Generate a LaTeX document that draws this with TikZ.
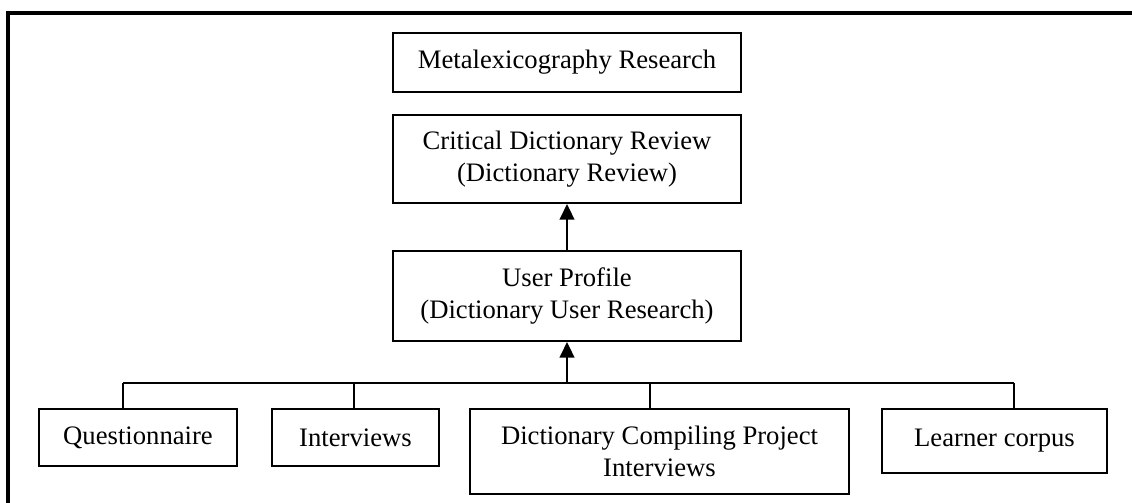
\documentclass[tikz,border=0pt]{standalone}
\usepackage{fontspec}
\setmainfont{Liberation Serif}
\usepackage{tikz}
\usetikzlibrary{arrows.meta}
\usetikzlibrary{positioning}
\tikzset{>={Triangle[length=7pt,width=6.5pt]}}
\def\px{0.45pt}

\begin{document}
\begin{tikzpicture}[
	x=\px, y=-\px,
	box/.style={draw, line width=0.9pt, rectangle, align=center, inner sep=0pt,
		font=\fontsize{12}{14.5}\selectfont},
	link/.style={line width=0.9pt},
	]
	
	\useasboundingbox (0,0) rectangle (1132,503);
	
	% outer frame
	\draw[line width=1.4pt] (8,503) -- (8,13) -- (1132,13);
	
	\node[box, minimum width=348*\px, minimum height=59*\px] (meta) at (567,62.5) {Metalexicography Research};
	\node[box, minimum width=348*\px, minimum height=88*\px, below=21*\px of meta] (crit) {Critical Dictionary Review\\(Dictionary Review)};
	\node[box, minimum width=348*\px, minimum height=90*\px, below=46*\px of crit] (user) {User Profile\\(Dictionary User Research)};
	
	\node[box, minimum width=198*\px, minimum height=57*\px] (quest) at (138,437.5) {Questionnaire};
	\node[box, minimum width=167*\px, minimum height=57*\px] (interv) at (355.5,437.5) {Interviews};
	\node[box, minimum width=379*\px, minimum height=85*\px] (dcp) at (659.5,451.5) {Dictionary Compiling Project\\Interviews};
	\node[box, minimum width=225*\px, minimum height=64*\px] (learner) at (994.5,441) {Learner corpus};
	
	% bus
	\coordinate (bus) at (567,383);
	\coordinate (bq) at (123,383);
	\coordinate (bi) at (354,383);
	\coordinate (bd) at (650,383);
	\coordinate (bl) at (1014,383);
	\draw[link] (bq) -- (bl);
	\foreach \src/\dst in {bq/quest, bi/interv, bd/dcp, bl/learner}
	\draw[link] (\src) -- (\src |- \dst.north);
	
	\draw[->, line width=1.2pt] (bus) -- (user.south);
	\draw[->, line width=1.2pt] (user.north) -- (crit.south);
	
\end{tikzpicture}
\end{document}
